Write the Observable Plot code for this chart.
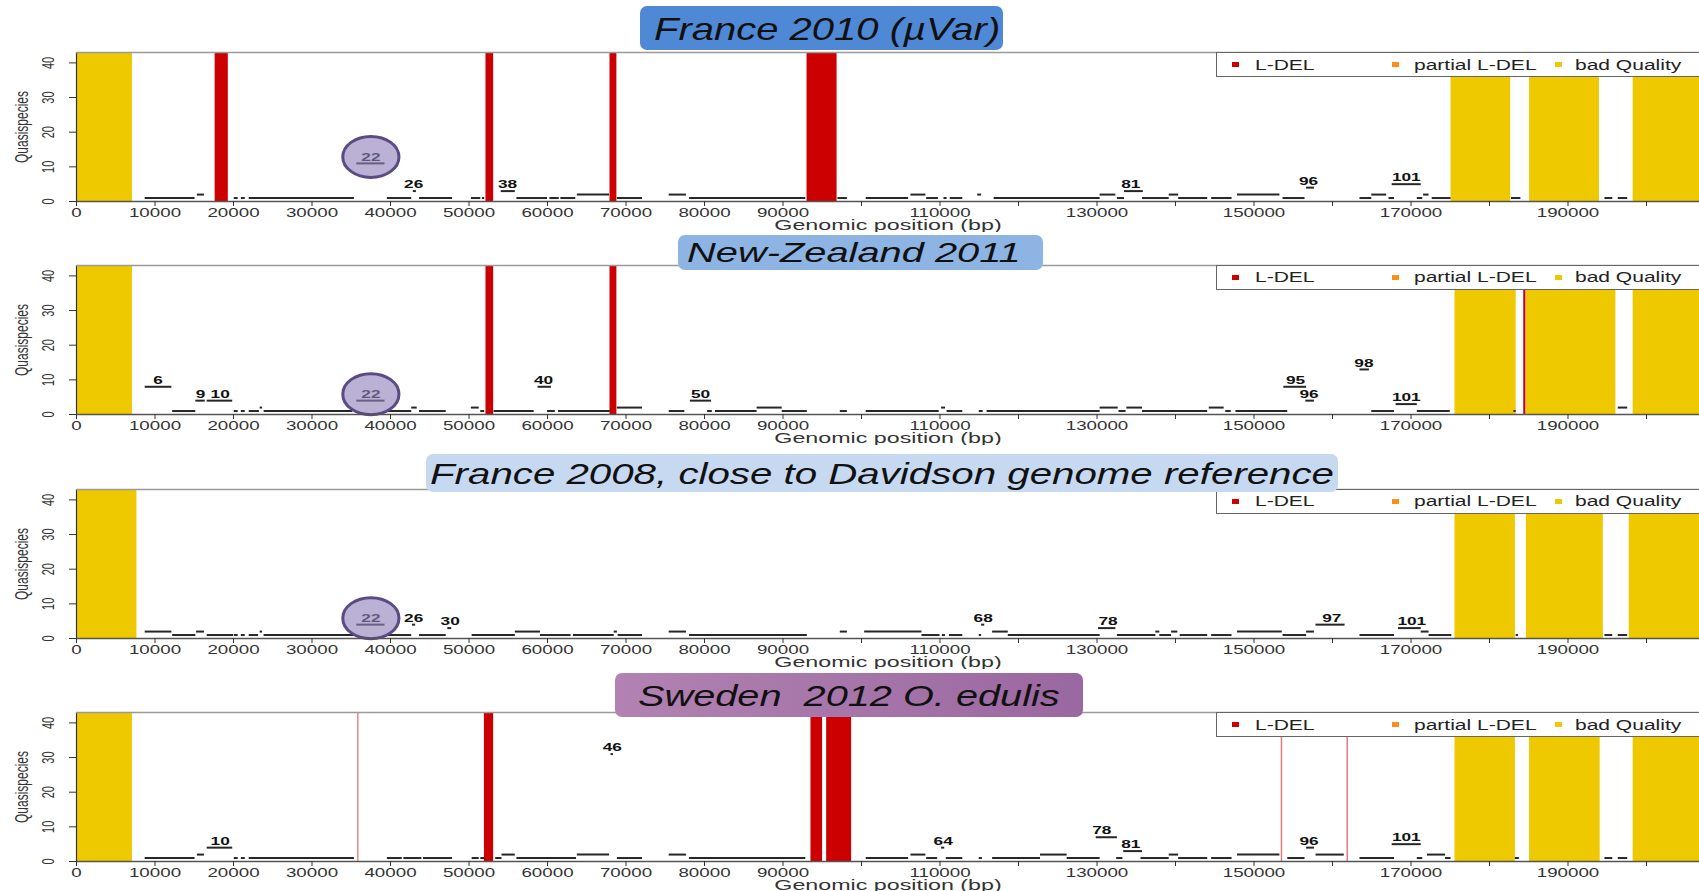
<!DOCTYPE html>
<html><head><meta charset="utf-8">
<script src="https://cdn.jsdelivr.net/npm/d3@7"></script>
<script src="https://cdn.jsdelivr.net/npm/@observablehq/plot@0.6"></script>
<style>
body{margin:0;background:#fff;}
#wrap{position:relative;width:1699px;height:891px;overflow:hidden;background:#fff;font-family:"Liberation Sans",Arial,sans-serif;}
.panel{position:absolute;left:0;}
.title{position:absolute;border-radius:7px;box-sizing:border-box;}
.title span{position:absolute;font-style:italic;white-space:pre;color:#111;transform-origin:0 50%;line-height:1;}
.legend{position:absolute;left:1216px;width:520px;height:25px;box-sizing:border-box;border:1.5px solid #666;background:#fff;}
.legend i{position:absolute;width:7px;height:5px;top:9px;}
.legend span{position:absolute;font-size:14px;line-height:1;top:4.5px;color:#222;white-space:pre;transform:scaleX(1.5);transform-origin:0 50%;}
</style></head>
<body><div id="wrap"></div>
<script>
// ---------- axis ticks ----------
const xTicks = [0,10000,20000,30000,40000,50000,60000,70000,80000,90000,100000,110000,120000,130000,140000,150000,160000,170000,180000,190000,200000];
const xTickLabels = ["0","10000","20000","30000","40000","50000","60000","70000","80000","90000","","110000","","130000","","150000","","170000","","190000",""];
const yTicks = [0,10,20,30,40];

// ---------- panel titles ----------
const titles = ["France 2010 (\u00b5Var)", "New-Zealand 2011", "France 2008, close to Davidson genome reference", "Sweden  2012 O. edulis"];
const legendNames = ["L-DEL", "partial L-DEL", "bad Quality"];

// ---------- Panel 1 : France 2010 ----------
const bad1 = [[0,7130],[175100,182700],[185100,194000],[198300,207000]];
const del1 = [[17700,19300],[52200,53100],[68000,68800],[93100,96850]];
const seg1 = [[8750,15100,1],[15400,16300,2],[20100,20600,1],[21000,21500,1],[22000,35400,1],[35700,39300,11],[39600,42700,1],[42900,43300,3],[43700,47900,1],[50300,51500,1],[51700,52000,1],[54100,55900,3],[56100,60000,1],[60300,61500,1],[61700,63600,1],[63800,67900,2],[68900,72100,1],[75500,77700,2],[78100,92900,1],[97000,98200,1],[100600,106000,1],[106300,108200,2],[108300,109800,1],[110500,110900,1],[111300,112900,1],[114800,115300,2],[116900,130400,1],[130400,132400,2],[132600,133500,1],[133500,135900,3],[135800,139200,1],[139200,140400,2],[140400,144100,1],[144600,147200,1],[147900,153300,2],[153700,156500,1],[156700,157700,4],[163500,165000,1],[165000,166900,2],[167200,167900,1],[167600,171300,5],[170800,171500,1],[171600,172300,2],[172700,175100,1],[182800,184000,1],[194700,195700,1],[196400,197600,1]];
const lab1 = [[37500,11,"22"],[42950,3,"26"],[54900,3,"38"],[134300,3,"81"],[156950,4,"96"],[169400,5,"101"]];

// ---------- Panel 2 : New-Zealand 2011 ----------
const bad2 = [[0,7130],[175600,183400],[184700,196100],[198300,207000]];
const del2 = [[52200,53100],[68000,68800],[184400,184600]];
const seg2 = [[8750,12150,8],[12250,15200,1],[15200,16400,4],[16650,19900,4],[20100,20600,1],[21000,21500,1],[22000,23300,1],[23400,23700,2],[23900,35200,1],[35700,39300,4],[39600,42700,1],[42700,43400,2],[43700,47100,1],[50300,51300,2],[51500,52000,1],[53200,58300,1],[58800,60500,8],[60000,61000,1],[61400,68000,1],[68900,72100,2],[75500,77500,1],[78200,80900,4],[80400,81000,1],[81400,86700,1],[86700,89900,2],[89900,93100,1],[97300,98200,1],[100600,109900,1],[110200,110700,2],[110900,112900,1],[115000,115500,1],[116000,130400,1],[130400,132700,2],[132800,133700,1],[133800,135800,2],[135800,144100,1],[144300,146200,2],[146400,147100,1],[147700,154300,1],[153800,156700,8],[156600,157700,4],[163500,164700,13],[165000,167900,1],[168100,170800,3],[170800,175000,1],[183100,183400,1],[196400,197600,2]];
const lab2 = [[10400,8,"6"],[15800,4,"9"],[18300,4,"10"],[37500,4,"22"],[59500,8,"40"],[79500,4,"50"],[155300,8,"95"],[157000,4,"96"],[164000,13,"98"],[169400,3,"101"]];

// ---------- Panel 3 : France 2008 ----------
const bad3 = [[0,7700],[175600,183300],[184700,194500],[197800,207000]];
const del3 = [];
const seg3 = [[8750,12150,2],[12250,15200,1],[15300,16300,2],[16650,20000,1],[20100,20600,1],[21000,21500,1],[22000,23200,1],[23400,23700,2],[23900,35500,1],[35700,39300,4],[39600,42700,1],[42800,43200,4],[43700,47100,1],[47300,47800,3],[50400,55900,1],[55900,59100,2],[59100,63000,1],[63300,68500,1],[68500,68900,2],[69000,72100,1],[75500,77700,2],[78100,93100,1],[97300,98200,2],[100400,107700,2],[107700,110000,1],[110300,110700,1],[111200,112900,1],[115000,115300,1],[115300,115700,4],[116700,118700,2],[118700,130400,1],[130200,132400,3],[132600,137500,1],[137500,138000,2],[138000,139500,1],[139500,140300,2],[140600,144100,1],[144600,147200,1],[147900,153600,2],[153700,156700,1],[156700,157700,2],[157900,161600,4],[163500,167900,1],[168400,171300,3],[171300,172300,2],[172300,175200,1],[183400,183700,1],[194700,195700,1],[196400,197600,1]];
const lab3 = [[37500,4,"22"],[42950,4,"26"],[47600,3,"30"],[115500,4,"68"],[131400,3,"78"],[159900,4,"97"],[170100,3,"101"]];

// ---------- Panel 4 : Sweden 2012 ----------
const bad4 = [[0,7130],[175600,183300],[185100,194100],[198300,207000]];
const del4 = [[35850,35950],[52000,53100],[93600,95000],[95600,98700],[153500,153620],[161880,162000]];
const seg4 = [[8750,15100,1],[15400,16300,2],[16650,19900,4],[20100,20600,1],[21000,21500,1],[22000,35400,1],[39600,41500,1],[41700,44000,1],[44200,47900,1],[50400,51300,1],[51500,52000,1],[53400,54200,1],[54200,55900,2],[56100,63700,1],[63800,67900,2],[68100,68400,31],[68900,72100,1],[75500,77700,2],[78100,92900,1],[100600,106000,1],[106300,108200,2],[108300,109700,1],[110200,110600,4],[110800,112900,1],[115000,115400,1],[116700,122800,1],[122800,126200,2],[126200,130400,1],[129900,132600,7],[132500,133300,1],[133400,135800,3],[135600,139200,1],[139200,140400,2],[140400,144100,1],[144600,147200,1],[147900,153300,2],[154300,156500,1],[156700,157700,4],[157900,161500,2],[163500,167900,1],[167600,171300,5],[170800,171500,1],[172100,174400,2],[174400,175100,1],[183300,183800,1],[194700,195700,1],[196400,197600,1]];
const lab4 = [[18300,4,"10"],[68250,31,"46"],[110400,4,"64"],[130600,7,"78"],[134300,3,"81"],[157000,4,"96"],[169400,5,"101"]];

// ---------- layout (not data) ----------
const W = 1699, ML = 76, MT = 8, MB = 31, PH = 149, XMAX = 206750, YMAX = 43;
const panelTops = [52, 264.5, 488.5, 712];
const titleBoxes = [
  {l:640, t:6, r:1003, b:50, tl:653.8, tr:1000, cy:28.5, fs:32, bg:"#4F89D6"},
  {l:677.5, t:235, r:1043, b:270, tl:687.4, tr:1021, cy:253, fs:28, bg:"#8DB4E3"},
  {l:426, t:454, r:1337.6, b:491.7, tl:430, tr:1334, cy:474, fs:30, bg:"#C6D9F1"},
  {l:614.7, t:673, r:1082.8, b:716.7, tl:637.7, tr:1059.4, cy:695.5, fs:30, bg:"linear-gradient(to right,#B282B2,#9A68A0)"}
];
const colors = {del:"#CC0000", partial:"#FF8C1A", bad:"#EEC900"};

const panels = [
  {bad:bad1, del:del1, seg:seg1, lab:lab1},
  {bad:bad2, del:del2, seg:seg2, lab:lab2},
  {bad:bad3, del:del3, seg:seg3, lab:lab3},
  {bad:bad4, del:del4, seg:seg4, lab:lab4}
];

const ellipse = {draw(ctx, size){
  const r = Math.sqrt(size/Math.PI), rx = r*1.37, ry = r, k = 0.5523;
  ctx.moveTo(rx,0);
  ctx.bezierCurveTo(rx, ry*k, rx*k, ry, 0, ry);
  ctx.bezierCurveTo(-rx*k, ry, -rx, ry*k, -rx, 0);
  ctx.bezierCurveTo(-rx, -ry*k, -rx*k, -ry, 0, -ry);
  ctx.bezierCurveTo(rx*k, -ry, rx, -ry*k, rx, 0);
  ctx.closePath();
}};

const wrap = document.getElementById("wrap");

function stretchTexts(svg, s){
  svg.querySelectorAll("text").forEach(t => {
    let tr = t.getAttribute("transform");
    if (!tr) {
      const x = +(t.getAttribute("x")||0), y = +(t.getAttribute("y")||0);
      t.removeAttribute("x"); t.removeAttribute("y");
      tr = `translate(${x},${y})`;
    }
    if (tr.includes("rotate")) tr = tr.replace("rotate", `scale(${s},1) rotate`);
    else tr = tr + ` scale(${s},1)`;
    t.setAttribute("transform", tr);
  });
}

panels.forEach((p, i) => {
  const svg = Plot.plot({
    width: W, height: MT + PH + MB,
    marginLeft: ML, marginRight: 0, marginTop: MT, marginBottom: MB,
    x: {domain: [0, XMAX]},
    y: {domain: [0, YMAX]},
    style: {fontFamily: "'Liberation Sans', Arial, sans-serif", background: "#fff", color: "#222"},
    marks: [
      Plot.rect(p.bad, {x1: d => d[0], x2: d => d[1], fill: colors.bad}),
      Plot.rect(p.del, {x1: d => d[0], x2: d => d[1], fill: colors.del,
        fillOpacity: d => (d[1]-d[0] < 150 ? 0.5 : 1), insetLeft: -0.3, insetRight: -0.3}),
      Plot.ruleY(p.seg, {y: d => d[2], x1: d => d[0], x2: d => d[1], stroke: "#262626", strokeWidth: 2}),
      Plot.text(p.lab, {x: d => d[0], y: d => d[1], text: d => d[2], dy: -6.5, lineAnchor: "middle",
        fontWeight: "bold", fontSize: 11.5, fill: "#111"}),
      Plot.dot(p.lab.filter(d => d[2] === "22"), {x: d => d[0], y: d => d[1], dy: -6.5, r: 20.5, symbol: ellipse,
        fill: "#8F81B9", fillOpacity: 0.62, stroke: "#5B4A86", strokeWidth: 3}),
      Plot.ruleX([0], {stroke: "#333", strokeWidth: 1.2}),
      Plot.ruleY([YMAX], {stroke: "#9a9a9a", strokeWidth: 1.5}),
      Plot.ruleY([0], {stroke: "#555", strokeWidth: 1.5}),
      Plot.axisX({ticks: xTicks, tickFormat: (d) => xTickLabels[xTicks.indexOf(d)], tickSize: 5, tickPadding: 2,
        fontSize: 12.5, color: "#333", label: null}),
      Plot.axisY({ticks: yTicks, tickFormat: () => "", tickSize: 7, color: "#333", label: null}),
      Plot.text(yTicks, {x: 0, y: d => d, text: d => String(d), rotate: -90, dx: -28, fontSize: 11, fill: "#333", textAnchor: "middle", lineAnchor: "middle"}),
      Plot.text(["Quasispecies"], {frameAnchor: "left", dx: -54, rotate: -90, fontSize: 12, fill: "#333", textAnchor: "middle", lineAnchor: "middle"}),
      Plot.text(["Genomic position (bp)"], {frameAnchor: "bottom", dy: 23.5, fontSize: 15.5, fill: "#333", lineAnchor: "middle"})
    ]
  });
  stretchTexts(svg, 1.5);
  svg.classList.add("panel");
  svg.style.top = (panelTops[i] - MT) + "px";
  svg.style.position = "absolute";
  wrap.appendChild(svg);
});

// legends
panelTops.forEach(t => {
  const lg = document.createElement("div");
  lg.className = "legend";
  lg.style.top = t + "px";
  const sq = [18.5, 178, 341], tx = [38, 196.5, 357.7], cols = [colors.del, colors.partial, colors.bad];
  legendNames.forEach((n, k) => {
    const s = document.createElement("i");
    s.style.left = (sq[k]-3.5) + "px"; s.style.background = cols[k];
    lg.appendChild(s);
    const sp = document.createElement("span");
    sp.textContent = n; sp.style.left = tx[k] + "px";
    lg.appendChild(sp);
  });
  wrap.appendChild(lg);
});

// titles
titles.forEach((txt, i) => {
  const b = titleBoxes[i];
  const box = document.createElement("div");
  box.className = "title";
  box.style.left = b.l + "px"; box.style.top = b.t + "px";
  box.style.width = (b.r - b.l) + "px"; box.style.height = (b.b - b.t) + "px";
  box.style.background = b.bg;
  const sp = document.createElement("span");
  sp.textContent = txt;
  sp.style.fontSize = b.fs + "px";
  sp.style.left = (b.tl - b.l) + "px";
  sp.style.top = (b.cy - b.t - b.fs/2) + "px";
  box.appendChild(sp);
  wrap.appendChild(box);
  const w = sp.getBoundingClientRect().width;
  sp.style.transform = `scaleX(${(b.tr - b.tl)/w})`;
});
</script>
</body></html>
